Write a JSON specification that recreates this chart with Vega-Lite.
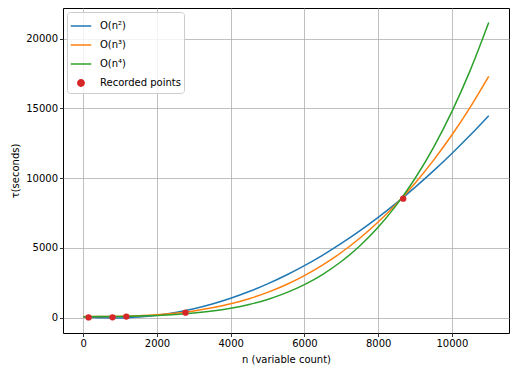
{
  "$schema": "https://vega.github.io/schema/vega-lite/v6.json",
  "width": 446,
  "height": 325,
  "autosize": "none",
  "padding": {"left": 63, "top": 8, "right": 7, "bottom": 41},
  "background": "white",
  "config": {
    "font": "DejaVu Sans",
    "view": {"stroke": "#000000", "strokeWidth": 1},
    "axis": {
      "domain": false,
      "grid": true,
      "gridColor": "#b0b0b0",
      "gridWidth": 0.8,
      "tickColor": "#000000",
      "tickSize": 3.5,
      "tickWidth": 0.8,
      "labelColor": "#000000",
      "labelFont": "DejaVu Sans",
      "labelFontSize": 10,
      "labelPadding": 2,
      "titleFont": "DejaVu Sans",
      "titleFontSize": 10,
      "titleFontWeight": "normal",
      "titleColor": "#000000"
    }
  },
  "data": {
    "values": [
      {"n": 0, "tau": 60, "series": "O(n²)"},
      {"n": 500, "tau": -20, "series": "O(n²)"},
      {"n": 1000, "tau": -30, "series": "O(n²)"},
      {"n": 1500, "tau": 30, "series": "O(n²)"},
      {"n": 2000, "tau": 160, "series": "O(n²)"},
      {"n": 2500, "tau": 360, "series": "O(n²)"},
      {"n": 3000, "tau": 630, "series": "O(n²)"},
      {"n": 3500, "tau": 970, "series": "O(n²)"},
      {"n": 4000, "tau": 1380, "series": "O(n²)"},
      {"n": 4500, "tau": 1860, "series": "O(n²)"},
      {"n": 5000, "tau": 2410, "series": "O(n²)"},
      {"n": 5500, "tau": 3030, "series": "O(n²)"},
      {"n": 6000, "tau": 3720, "series": "O(n²)"},
      {"n": 6500, "tau": 4480, "series": "O(n²)"},
      {"n": 7000, "tau": 5310, "series": "O(n²)"},
      {"n": 7500, "tau": 6210, "series": "O(n²)"},
      {"n": 8000, "tau": 7180, "series": "O(n²)"},
      {"n": 8500, "tau": 8220, "series": "O(n²)"},
      {"n": 9000, "tau": 9330, "series": "O(n²)"},
      {"n": 9500, "tau": 10510, "series": "O(n²)"},
      {"n": 10000, "tau": 11760, "series": "O(n²)"},
      {"n": 10500, "tau": 13080, "series": "O(n²)"},
      {"n": 11000, "tau": 14470, "series": "O(n²)"},
      {"n": 0, "tau": 75, "series": "O(n³)"},
      {"n": 500, "tau": 77, "series": "O(n³)"},
      {"n": 1000, "tau": 92, "series": "O(n³)"},
      {"n": 1500, "tau": 131, "series": "O(n³)"},
      {"n": 2000, "tau": 201, "series": "O(n³)"},
      {"n": 2500, "tau": 313, "series": "O(n³)"},
      {"n": 3000, "tau": 474, "series": "O(n³)"},
      {"n": 3500, "tau": 695, "series": "O(n³)"},
      {"n": 4000, "tau": 984, "series": "O(n³)"},
      {"n": 4500, "tau": 1351, "series": "O(n³)"},
      {"n": 5000, "tau": 1804, "series": "O(n³)"},
      {"n": 5500, "tau": 2352, "series": "O(n³)"},
      {"n": 6000, "tau": 3005, "series": "O(n³)"},
      {"n": 6500, "tau": 3772, "series": "O(n³)"},
      {"n": 7000, "tau": 4661, "series": "O(n³)"},
      {"n": 7500, "tau": 5683, "series": "O(n³)"},
      {"n": 8000, "tau": 6845, "series": "O(n³)"},
      {"n": 8500, "tau": 8158, "series": "O(n³)"},
      {"n": 9000, "tau": 9629, "series": "O(n³)"},
      {"n": 9500, "tau": 11269, "series": "O(n³)"},
      {"n": 10000, "tau": 13086, "series": "O(n³)"},
      {"n": 10500, "tau": 15089, "series": "O(n³)"},
      {"n": 11000, "tau": 17288, "series": "O(n³)"},
      {"n": 0, "tau": 60, "series": "O(n⁴)"},
      {"n": 500, "tau": 64, "series": "O(n⁴)"},
      {"n": 1000, "tau": 78, "series": "O(n⁴)"},
      {"n": 1500, "tau": 105, "series": "O(n⁴)"},
      {"n": 2000, "tau": 149, "series": "O(n⁴)"},
      {"n": 2500, "tau": 217, "series": "O(n⁴)"},
      {"n": 3000, "tau": 318, "series": "O(n⁴)"},
      {"n": 3500, "tau": 463, "series": "O(n⁴)"},
      {"n": 4000, "tau": 665, "series": "O(n⁴)"},
      {"n": 4500, "tau": 937, "series": "O(n⁴)"},
      {"n": 5000, "tau": 1298, "series": "O(n⁴)"},
      {"n": 5500, "tau": 1764, "series": "O(n⁴)"},
      {"n": 6000, "tau": 2357, "series": "O(n⁴)"},
      {"n": 6500, "tau": 3099, "series": "O(n⁴)"},
      {"n": 7000, "tau": 4014, "series": "O(n⁴)"},
      {"n": 7500, "tau": 5130, "series": "O(n⁴)"},
      {"n": 8000, "tau": 6473, "series": "O(n⁴)"},
      {"n": 8500, "tau": 8074, "series": "O(n⁴)"},
      {"n": 9000, "tau": 9966, "series": "O(n⁴)"},
      {"n": 9500, "tau": 12183, "series": "O(n⁴)"},
      {"n": 10000, "tau": 14760, "series": "O(n⁴)"},
      {"n": 10500, "tau": 17736, "series": "O(n⁴)"},
      {"n": 11000, "tau": 21150, "series": "O(n⁴)"},
      {"n": 144, "tau": 10, "series": "Recorded points"},
      {"n": 794, "tau": 15, "series": "Recorded points"},
      {"n": 1168, "tau": 70, "series": "Recorded points"},
      {"n": 2773, "tau": 350, "series": "Recorded points"},
      {"n": 8680, "tau": 8520, "series": "Recorded points"}
    ]
  },
  "encoding": {
    "x": {
      "field": "n", "type": "quantitative",
      "scale": {"domain": [-550, 11550], "nice": false, "zero": false},
      "axis": {"values": [0, 2000, 4000, 6000, 8000, 10000], "format": "d", "title": "n (variable count)", "titlePadding": 6}
    },
    "y": {
      "field": "tau", "type": "quantitative",
      "scale": {"domain": [-1110, 22190], "nice": false, "zero": false},
      "axis": {"values": [0, 5000, 10000, 15000, 20000], "format": "d", "title": "τ(seconds)", "titlePadding": 5}
    },
    "color": {
      "field": "series", "type": "nominal",
      "scale": {
        "domain": ["O(n²)", "O(n³)", "O(n⁴)", "Recorded points"],
        "range": ["#1f77b4", "#ff7f0e", "#2ca02c", "#d62728"]
      },
      "legend": {
        "title": null,
        "orient": "top-left",
        "offset": 4,
        "padding": 3,
        "fillColor": "rgba(255,255,255,0.8)",
        "strokeColor": "#cccccc",
        "cornerRadius": 3,
        "labelFont": "DejaVu Sans",
        "labelFontSize": 10,
        "labelColor": "#000000",
        "symbolSize": 420,
        "symbolStrokeWidth": 1.5,
        "rowPadding": 3,
        "labelOffset": 8,
        "encode": {
          "symbols": {
            "update": {
              "shape": {"signal": "datum.value === 'Recorded points' ? 'circle' : 'stroke'"},
              "size": {"signal": "datum.value === 'Recorded points' ? 40 : 420"},
              "fill": {"signal": "datum.value === 'Recorded points' ? '#d62728' : 'transparent'"},
              "stroke": {"signal": "datum.value === 'Recorded points' ? 'transparent' : scale('color', datum.value)"},
              "strokeWidth": {"value": 1.5},
              "opacity": {"value": 1}
            }
          }
        }
      }
    }
  },
  "layer": [
    {
      "transform": [{"filter": "datum.series !== 'Recorded points'"}],
      "mark": {"type": "line", "strokeWidth": 1.5, "interpolate": "monotone"}
    },
    {
      "transform": [{"filter": "datum.series === 'Recorded points'"}],
      "mark": {"type": "point", "filled": true, "size": 40, "opacity": 1}
    }
  ]
}
